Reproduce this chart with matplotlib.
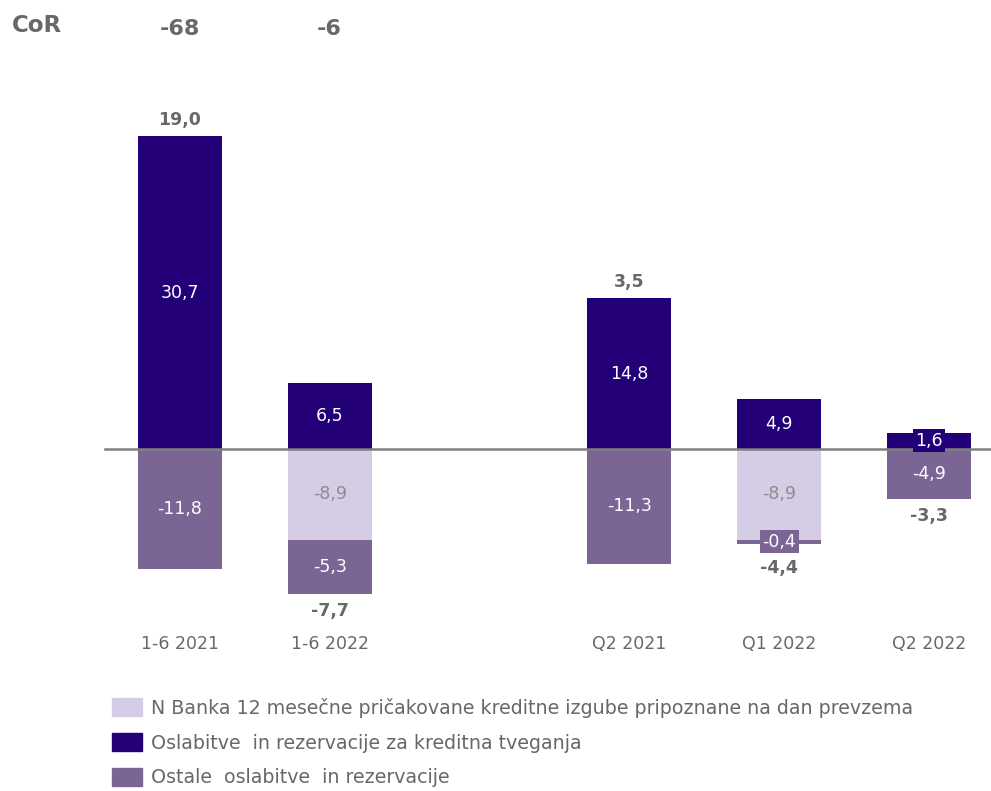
import matplotlib.pyplot as plt
from matplotlib.patches import Patch

categories = ['1-6 2021', '1-6 2022', 'Q2 2021', 'Q1 2022', 'Q2 2022']
xpos = [0, 1, 3, 4, 5]
nbanka = [0.0, -8.9, 0.0, -8.9, 0.0]
credit = [30.7, 6.5, 14.8, 4.9, 1.6]
other = [-11.8, -5.3, -11.3, -0.4, -4.9]
totals = [19.0, -7.7, 3.5, -4.4, -3.3]
cor_values = ['-68', '-6']

c_light = '#d5cce6'
c_dark = '#230078'
c_mid = '#7b6594'
c_gray = '#686868'

plt.rcParams['font.family'] = ['DejaVu Sans']

def fmt(v):
    return f'{v:.1f}'.replace('.', ',')

fig = plt.figure(figsize=(9.91, 7.91), dpi=100)
ax = fig.add_axes([0, 0, 1, 1])
ax.set_xlim(-1.2, 5.414)
ax.set_ylim(-33.6, 44.1)
ax.axis('off')

w = 0.56
ax.bar(xpos, credit, width=w, color=c_dark, zorder=2)
ax.bar(xpos, nbanka, width=w, color=c_light, zorder=2)
ax.bar(xpos, other, width=w, bottom=nbanka, color=c_mid, zorder=2)
ax.axhline(0, xmin=0.106, xmax=1, color='#808080', lw=1.8, zorder=3)

fs = 12.5
for x, c, n, o, t, cat in zip(xpos, credit, nbanka, other, totals, categories):
    small = c < 3
    ax.text(x, c / 2, fmt(c), ha='center', va='center', color='white', fontsize=fs, zorder=4,
            bbox=dict(boxstyle='square,pad=0.15', fc=c_dark, ec='none') if small else None)
    if n != 0:
        ax.text(x, n / 2, fmt(n), ha='center', va='center', color='#8c8c8c', fontsize=fs, zorder=4)
    small = abs(o) < 3
    ax.text(x, n + o / 2, fmt(o), ha='center', va='center', color='white', fontsize=fs, zorder=4,
            bbox=dict(boxstyle='square,pad=0.15', fc=c_mid, ec='none') if small else None)
    if t > 0:
        ax.annotate(fmt(t), (x, c), xytext=(0, 5), textcoords='offset points', ha='center',
                    va='bottom', fontsize=fs, fontweight='bold', color=c_gray)
    else:
        ax.annotate(fmt(t), (x, n + o), xytext=(0, -11 if abs(o) < 3 else -6),
                    textcoords='offset points', ha='center', va='top', fontsize=fs,
                    fontweight='bold', color=c_gray)
    ax.text(x, -19.2, cat, ha='center', va='center', fontsize=fs, color=c_gray)

fig.text(12 / 991, 1 - 25 / 791, 'CoR', ha='left', va='center', fontsize=16.5, fontweight='bold', color=c_gray)
for x, v in zip(xpos[:2], cor_values):
    ax.text(x, 41.3, v, ha='center', va='center', fontsize=16, fontweight='bold', color=c_gray)

handles = [Patch(color=c_light), Patch(color=c_dark), Patch(color=c_mid)]
labels = ['N Banka 12 mesečne pričakovane kreditne izgube pripoznane na dan prevzema',
          'Oslabitve  in rezervacije za kreditna tveganja',
          'Ostale  oslabitve  in rezervacije']
fig.legend(handles, labels, loc='upper left', bbox_to_anchor=(108 / 991, 1 - 694 / 791),
           frameon=False, fontsize=13.7, labelcolor=c_gray, handlelength=1.58, handleheight=1.1,
           labelspacing=0.8, handletextpad=0.5, borderaxespad=0, borderpad=0.2)

fig.savefig('out.png', dpi=100)
